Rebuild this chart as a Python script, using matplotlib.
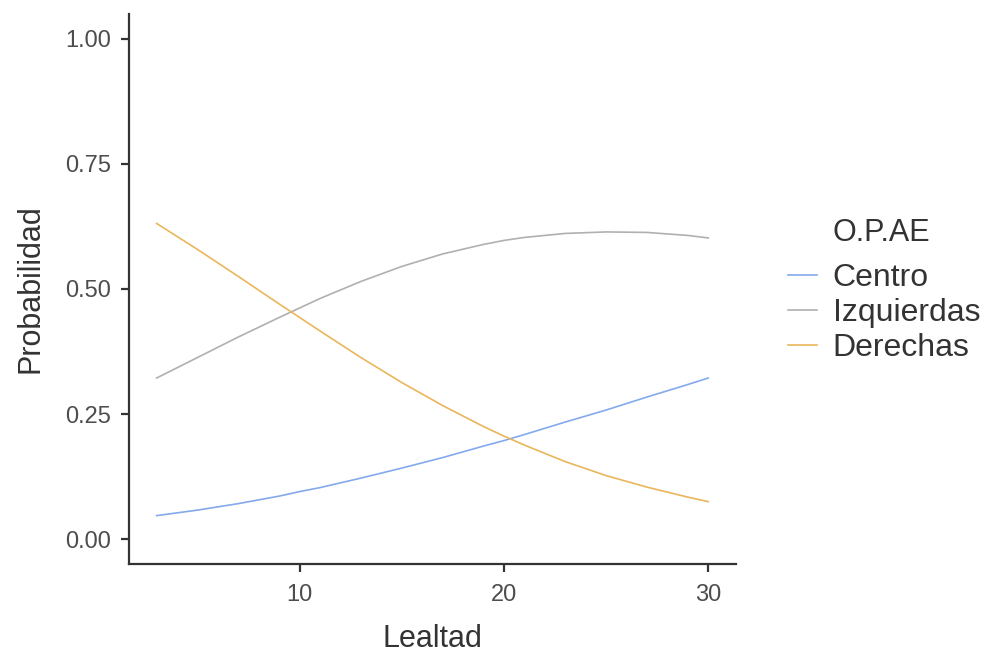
import matplotlib
matplotlib.use("Agg")
import matplotlib.pyplot as plt

plt.rcParams['font.family'] = ['Liberation Sans', 'DejaVu Sans']

lealtad = [3, 5, 7, 9, 10, 11, 13, 15, 17, 19, 20, 21, 23, 25, 27, 29, 30]
centro = [0.047, 0.058, 0.071, 0.086, 0.095, 0.103, 0.122, 0.142, 0.163, 0.186,
          0.197, 0.209, 0.234, 0.258, 0.284, 0.309, 0.322]
izquierdas = [0.322, 0.363, 0.404, 0.443, 0.462, 0.481, 0.515, 0.545, 0.570, 0.589,
              0.597, 0.603, 0.611, 0.614, 0.613, 0.607, 0.602]
derechas = [0.631, 0.579, 0.525, 0.470, 0.443, 0.416, 0.363, 0.313, 0.267, 0.225,
            0.206, 0.188, 0.155, 0.127, 0.104, 0.084, 0.075]

series = [("Centro", centro, "#84a9ec"),
          ("Izquierdas", izquierdas, "#b0b0b0"),
          ("Derechas", derechas, "#e9b65c")]

fig = plt.figure(figsize=(9.85, 6.56), dpi=100)
ax = fig.add_axes([0.131, 0.140, 0.616, 0.839])

for name, vals, col in series:
    ax.plot(lealtad, vals, color=col, lw=1.2, label=name)

ax.set_xlim(1.65, 31.35)
ax.set_ylim(-0.05, 1.05)
ax.set_xticks([10, 20, 30])
ax.set_yticks([0, 0.25, 0.5, 0.75, 1.0])
ax.set_yticklabels(["0.00", "0.25", "0.50", "0.75", "1.00"])

for s in ["top", "right"]:
    ax.spines[s].set_visible(False)
for s in ["left", "bottom"]:
    ax.spines[s].set_color("#333333")
    ax.spines[s].set_linewidth(1.6)
ax.tick_params(colors="#333333", width=1.6, length=6, labelsize=17, labelcolor="#4d4d4d")
ax.tick_params(axis="x", pad=8)
ax.tick_params(axis="y", pad=7)

ax.set_xlabel("Lealtad", fontsize=22, color="#333333")
ax.set_ylabel("Probabilidad", fontsize=22, color="#333333")
ax.xaxis.set_label_coords(0.5, (656 - 639 - 92) / 550.0, transform=ax.transAxes)
ax.xaxis.label.set_va("center")
ax.yaxis.set_label_coords((30 - 129) / 607.0, 0.5, transform=ax.transAxes)
ax.yaxis.label.set_va("center")

leg = fig.legend(loc="upper left", bbox_to_anchor=(788 / 985, 1 - 263 / 656), frameon=False,
                 fontsize=23, handlelength=0.9, handletextpad=0.5, labelspacing=0.16,
                 labelcolor="#333333", borderaxespad=0, borderpad=0)
fig.text(833 / 985, 1 - 233 / 656, "O.P.AE", fontsize=22, color="#333333", va="center")

fig.savefig("out.png", dpi=100)
